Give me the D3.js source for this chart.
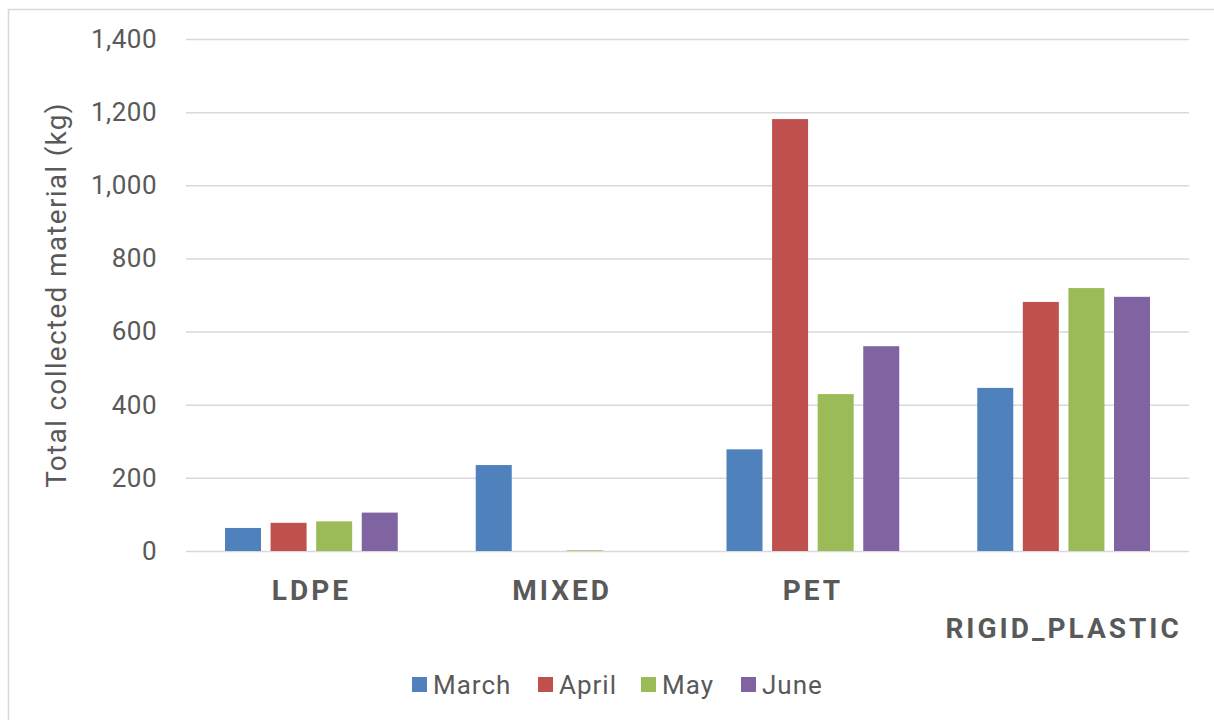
<!DOCTYPE html>
<html lang="en">
<head>
    <meta charset="UTF-8">
    <title>Total collected material</title>
    <style>
        body { margin: 0; background: #fff; }
        text { font-family: Roboto, "DejaVu Sans", sans-serif; fill: #595959; }
    </style>
</head>
<body>
    <div id="chart"></div>
    <script src="https://d3js.org/d3.v7.min.js"></script>
    <script>
        const categories = ["LDPE", "MIXED", "PET", "RIGID_PLASTIC"];
        const months = ["March", "April", "May", "June"];
        const colors = ["#4F81BD", "#C0504D", "#9BBB59", "#8064A2"];
        const march = [63, 235, 278, 446];
        const april = [77, 0, 1181, 681];
        const may = [81, 2, 429, 719];
        const june = [105, 0, 560, 695];
        const yTicks = [0, 200, 400, 600, 800, 1000, 1200, 1400];

        const series = [march, april, may, june];

        const W = 1214, H = 720;
        const margin = { top: 39, right: 25, bottom: 169, left: 186 },
              width = W - margin.left - margin.right,
              height = H - margin.top - margin.bottom;

        const root = d3.select("#chart")
            .append("svg")
            .attr("width", W)
            .attr("height", H);

        // outer chart border
        root.append("rect")
            .attr("x", 8.5)
            .attr("y", 9.5)
            .attr("width", W)
            .attr("height", H)
            .style("fill", "none")
            .style("stroke", "#d9d9d9")
            .style("stroke-width", 1.5);

        const svg = root.append("g")
            .attr("transform", "translate(" + margin.left + "," + margin.top + ")");

        const x = d3.scaleBand()
            .domain(categories)
            .range([0, width]);

        const xInner = d3.scaleBand()
            .domain(months)
            .range([39, x.bandwidth() - 39])
            .paddingInner(0.21);

        const y = d3.scaleLinear()
            .domain([0, 1400])
            .range([height, 0]);

        // gridlines + y labels
        const yAxis = svg.append("g")
            .call(d3.axisLeft(y).tickValues(yTicks).tickFormat(d3.format(",")).tickSize(-width).tickPadding(29));
        yAxis.select(".domain").remove();
        yAxis.selectAll(".tick line")
            .style("stroke", "#d9d9d9")
            .style("stroke-width", 1.5);
        yAxis.selectAll(".tick text")
            .style("font-size", "26px")
            .style("letter-spacing", "0.5px")
            .style("fill", "#595959");

        // bars
        months.forEach((m, i) => {
            svg.append("g")
                .selectAll("rect")
                .data(categories.map((c, j) => ({ cat: c, value: series[i][j] })))
                .join("rect")
                .attr("x", d => x(d.cat) + xInner(m))
                .attr("y", d => y(d.value))
                .attr("width", xInner.bandwidth())
                .attr("height", d => height - y(d.value))
                .style("fill", colors[i]);
        });

        // category labels, staggered when they don't fit
        const catLabels = svg.append("g")
            .selectAll("text")
            .data(categories)
            .join("text")
            .attr("x", d => x(d) + x.bandwidth() / 2)
            .attr("y", height + 49)
            .attr("text-anchor", "middle")
            .style("font-size", "28px")
            .style("font-weight", "bold")
            .style("letter-spacing", "3px")
            .text(d => d);
        catLabels.each(function () {
            if (this.getComputedTextLength() > x.bandwidth() * 0.85) {
                d3.select(this).attr("y", height + 87);
            }
        });

        // y axis title
        root.append("text")
            .attr("transform", "translate(66,295) rotate(-90)")
            .attr("text-anchor", "middle")
            .style("font-size", "28px")
            .style("letter-spacing", "1.3px")
            .text("Total collected material (kg)");

        // legend
        const legend = root.append("g")
            .attr("transform", "translate(412,677)");
        const legendX = [0, 126, 229, 329];
        months.forEach((m, i) => {
            const g = legend.append("g").attr("transform", "translate(" + legendX[i] + ",0)");
            g.append("rect")
                .attr("width", 15)
                .attr("height", 15)
                .style("fill", colors[i]);
            g.append("text")
                .attr("x", 21)
                .attr("y", 17)
                .style("font-size", "26px")
                .style("letter-spacing", "1px")
                .text(m);
        });
    </script>
</body>
</html>
